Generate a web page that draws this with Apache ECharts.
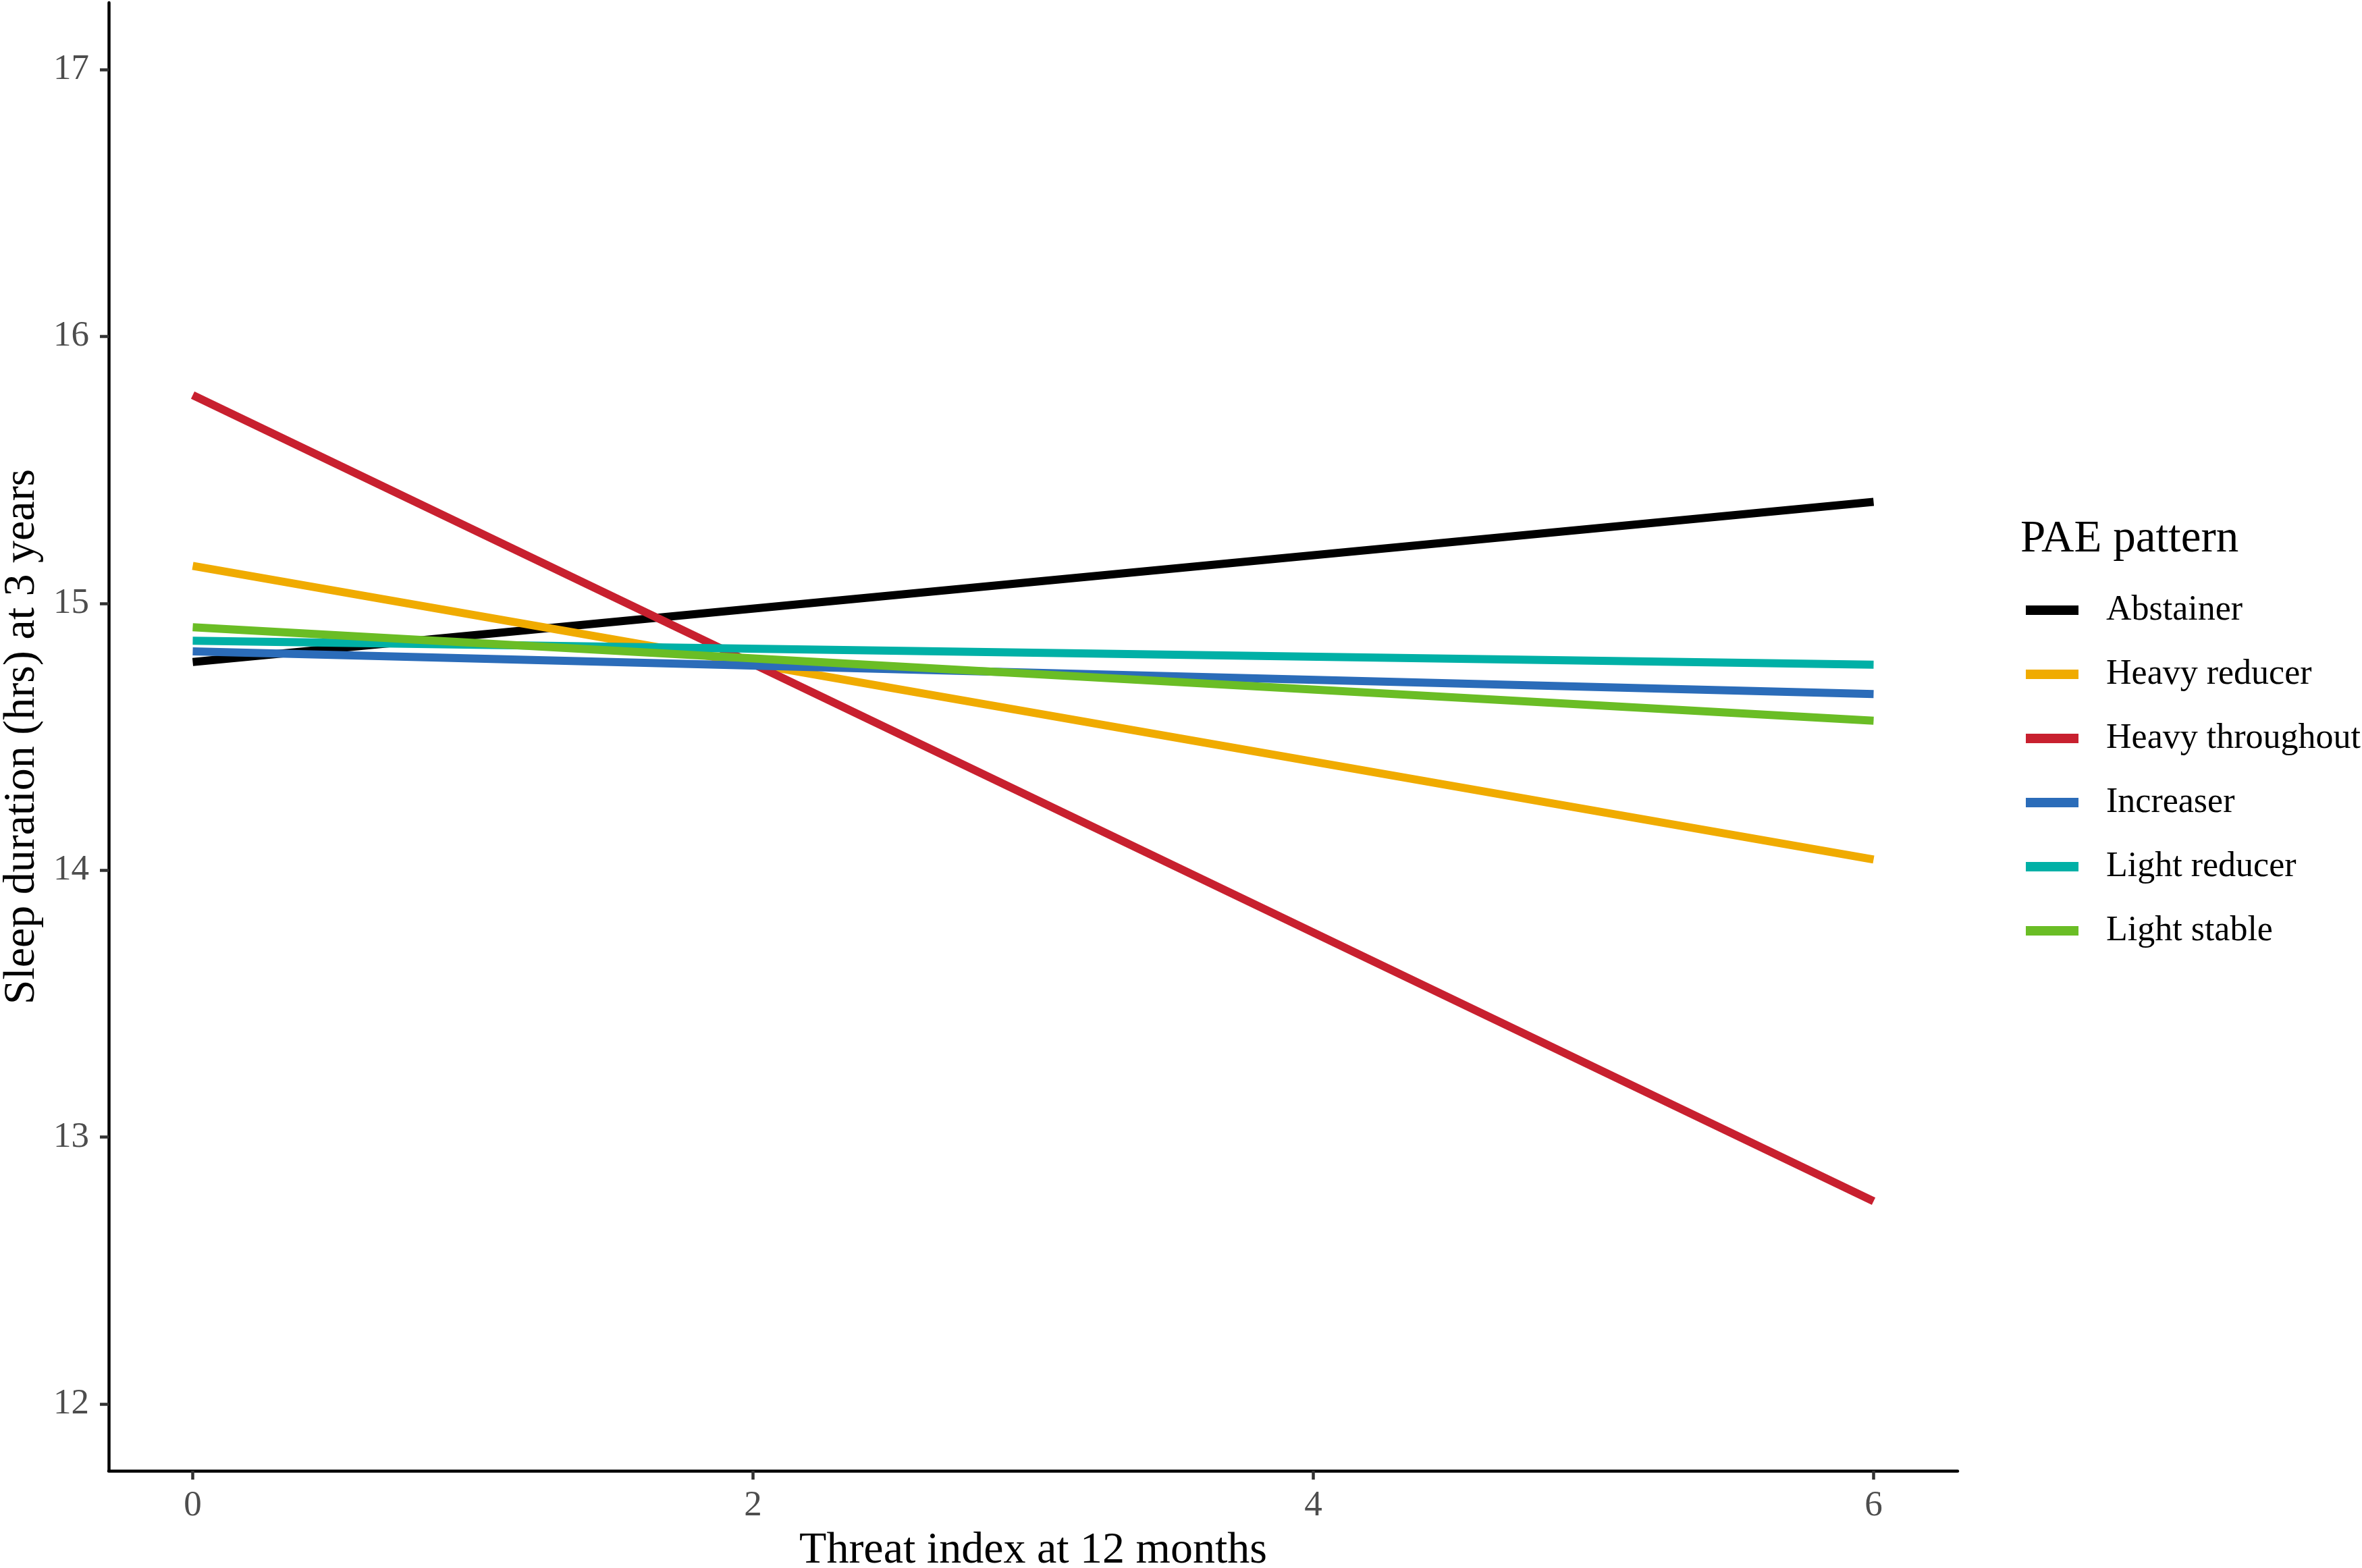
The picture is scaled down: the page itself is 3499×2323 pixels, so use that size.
<!DOCTYPE html>
<html>
<head>
<meta charset="utf-8">
<script src="https://cdn.jsdelivr.net/npm/echarts@6/dist/echarts.min.js"></script>
<style>
  html, body { margin: 0; padding: 0; background: #ffffff; }
  #main { width: 3499px; height: 2323px; }
</style>
</head>
<body>
<div id="main"></div>
<script>
// data: predicted sleep duration at threat index 0 and 6
var threatX = [0, 6];
var patterns = ['Abstainer', 'Heavy reducer', 'Heavy throughout', 'Increaser', 'Light reducer', 'Light stable'];
var abstainer = [14.78, 15.38];
var heavyReducer = [15.14, 14.04];
var heavyThroughout = [15.78, 12.76];
var increaser = [14.82, 14.66];
var lightReducer = [14.86, 14.77];
var lightStable = [14.91, 14.56];
var xTicks = [0, 2, 4, 6];
var yTicks = [12, 13, 14, 15, 16, 17];

var colors = ['#000000', '#F0AB00', '#C8202F', '#2B6CB9', '#00B0A6', '#6ABD25'];
var values = [abstainer, heavyReducer, heavyThroughout, increaser, lightReducer, lightStable];
var serif = 'Liberation Serif';

var myChart = echarts.init(document.getElementById('main'));

var series = patterns.map(function (name, i) {
    return {
        name: name,
        type: 'line',
        showSymbol: false,
        symbol: 'none',
        silent: true,
        data: threatX.map(function (x, j) { return [x, values[i][j]]; }),
        lineStyle: { color: colors[i], width: 12 },
        itemStyle: { color: colors[i] }
    };
});

var option = {
    backgroundColor: '#ffffff',
    animation: false,
    color: colors,
    title: {
        text: 'PAE pattern',
        left: 2993,
        top: 766,
        padding: 0,
        textStyle: { fontFamily: serif, fontSize: 67, fontWeight: 'normal', color: '#000000', lineHeight: 67 }
    },
    legend: {
        orient: 'vertical',
        left: 3001,
        top: 878,
        padding: 0,
        itemWidth: 78,
        itemHeight: 14,
        itemGap: 43,
        icon: 'rect',
        data: patterns,
        textStyle: { fontFamily: serif, fontSize: 52, color: '#000000', lineHeight: 52, padding: [0, 0, 0, 36] }
    },
    grid: { left: 161, right: 599, top: 4, bottom: 144, containLabel: false, outerBoundsMode: 'none' },
    xAxis: {
        type: 'value',
        min: -0.3,
        max: 6.3,
        name: 'Threat index at 12 months',
        nameLocation: 'middle',
        nameGap: 86,
        nameTextStyle: { fontFamily: serif, fontSize: 66, color: '#000000' },
        axisLine: { show: true, onZero: false, lineStyle: { color: '#000000', width: 4.5 } },
        axisTick: { show: true, length: 13, customValues: xTicks, lineStyle: { color: '#333333', width: 4.5 } },
        axisLabel: { customValues: xTicks, margin: 26, fontFamily: serif, fontSize: 53, color: '#4D4D4D' },
        splitLine: { show: false }
    },
    yAxis: {
        type: 'value',
        min: 11.75,
        max: 17.25,
        name: 'Sleep duration (hrs) at 3 years',
        nameLocation: 'middle',
        nameGap: 95,
        nameTextStyle: { fontFamily: serif, fontSize: 66, color: '#000000' },
        axisLine: { show: true, onZero: false, lineStyle: { color: '#000000', width: 4.5 } },
        axisTick: { show: true, length: 13, customValues: yTicks, lineStyle: { color: '#333333', width: 4.5 } },
        axisLabel: { customValues: yTicks, margin: 29, fontFamily: serif, fontSize: 53, color: '#4D4D4D' },
        splitLine: { show: false }
    },
    series: series
};

myChart.setOption(option);
</script>
</body>
</html>
